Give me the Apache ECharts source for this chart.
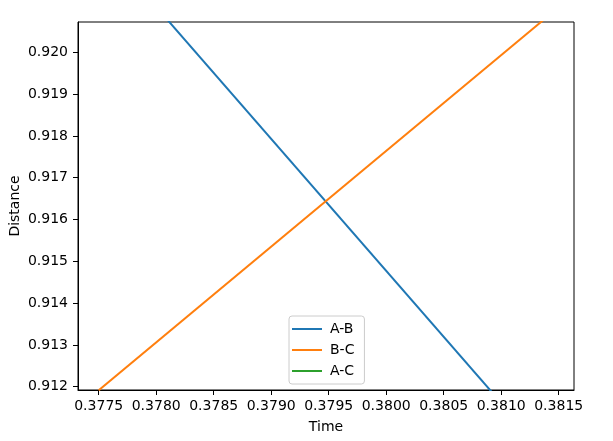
<!DOCTYPE html>
<html>
<head>
<meta charset="utf-8">
<script src="https://cdn.jsdelivr.net/npm/echarts@6/dist/echarts.min.js"></script>
<style>
  html, body { margin: 0; padding: 0; background: #fff; }
  #chart { width: 613px; height: 441px; }
</style>
</head>
<body>
<div id="chart"></div>
<script>
// values (lines run past the plot edges and get clipped)
var abData = [[0.3780, 0.921085], [0.3810, 0.911615]];
var bcData = [[0.3775, 0.911914], [0.3816, 0.921307]];
var acData = [[0.3775, 1.83], [0.3816, 1.83]];

var xTicks = [0.3775, 0.3780, 0.3785, 0.3790, 0.3795, 0.3800, 0.3805, 0.3810, 0.3815];
var yTicks = [0.912, 0.913, 0.914, 0.915, 0.916, 0.917, 0.918, 0.919, 0.920];

var chartDom = document.getElementById('chart');
var myChart = echarts.init(chartDom);

var font = 'DejaVu Sans';

var option = {
    animation: false,
    grid: {
        left: 78,
        right: 39,
        top: 22,
        bottom: 51,
        outerBoundsMode: 'none',
        show: true,
        borderColor: '#000',
        borderWidth: 1
    },
    legend: {
        orient: 'vertical',
        left: 289,
        top: 316,
        icon: 'rect',
        itemWidth: 30,
        itemHeight: 2,
        itemGap: 7,
        padding: [6, 10, 6, 3],
        backgroundColor: '#fff',
        borderColor: '#cccccc',
        borderWidth: 1,
        borderRadius: 3,
        textStyle: { fontFamily: font, fontSize: 14, color: '#000', padding: [0, 0, 0, 3] },
        data: ['A-B', 'B-C', 'A-C']
    },
    xAxis: {
        type: 'value',
        min: 0.37732,
        max: 0.381633,
        name: 'Time',
        nameLocation: 'middle',
        nameGap: 30,
        nameMoveOverlap: false,
        nameTextStyle: { fontFamily: font, fontSize: 14, color: '#000' },
        axisLine: { show: true, lineStyle: { color: '#000', width: 1 } },
        axisTick: { show: true, length: 5, lineStyle: { color: '#000' }, customValues: xTicks },
        axisLabel: {
            customValues: xTicks,
            fontFamily: font, fontSize: 14, color: '#000', margin: 9,
            formatter: function (v) { return v.toFixed(4); }
        },
        splitLine: { show: false }
    },
    yAxis: {
        type: 'value',
        min: 0.911921,
        max: 0.920725,
        name: 'Distance',
        nameLocation: 'middle',
        nameGap: 56,
        nameMoveOverlap: false,
        nameTextStyle: { fontFamily: font, fontSize: 14, color: '#000' },
        axisLine: { show: true, lineStyle: { color: '#000', width: 1 } },
        axisTick: { show: true, length: 5, lineStyle: { color: '#000' }, customValues: yTicks },
        axisLabel: {
            customValues: yTicks,
            fontFamily: font, fontSize: 14, color: '#000', margin: 10,
            formatter: function (v) { return v.toFixed(3); }
        },
        splitLine: { show: false }
    },
    series: [
        {
            name: 'A-B',
            type: 'line',
            data: abData,
            symbol: 'none',
            clip: true,
            lineStyle: { color: '#1f77b4', width: 2 },
            itemStyle: { color: '#1f77b4' }
        },
        {
            name: 'B-C',
            type: 'line',
            data: bcData,
            symbol: 'none',
            clip: true,
            lineStyle: { color: '#ff7f0e', width: 2 },
            itemStyle: { color: '#ff7f0e' }
        },
        {
            name: 'A-C',
            type: 'line',
            data: acData,
            symbol: 'none',
            clip: true,
            lineStyle: { color: '#2ca02c', width: 2 },
            itemStyle: { color: '#2ca02c' }
        }
    ]
};
myChart.setOption(option);
</script>
</body>
</html>
